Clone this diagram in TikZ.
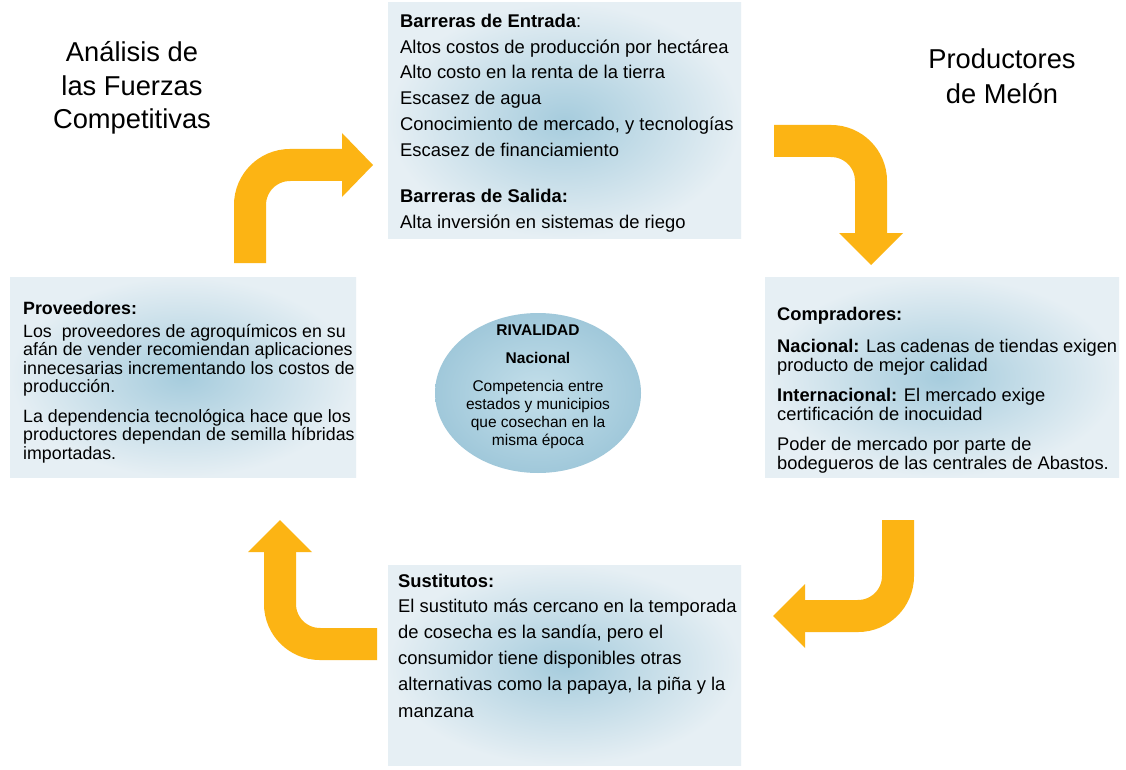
\documentclass[tikz,border=0pt]{standalone}
\usepackage{fontspec}
\setmainfont{Liberation Sans}
\usetikzlibrary{shapes.geometric,calc}
\definecolor{arr}{RGB}{252,180,20}
\definecolor{boxin}{RGB}{166,204,221}
\definecolor{boxout}{RGB}{230,239,244}
\definecolor{ellin}{RGB}{196,223,234}
\definecolor{ellout}{RGB}{160,200,218}
\begin{document}
\begin{tikzpicture}[x=1pt,y=-1pt,
  box/.style={rectangle, inner sep=0, inner color=boxin, outer color=boxout},
  txt/.style={anchor=base west, inner sep=0},
  ctxt/.style={anchor=base, inner sep=0},
  shaft/.style={draw=arr, line width=32pt, rounded corners=40pt},
  head/.style={fill=arr, draw=none}
]
\useasboundingbox (0,0) rectangle (1126,770);
\fill[white] (0,0) rectangle (1126,770);

% boxes
\node[box, minimum width=353, minimum height=235] (top) at (564.5,120.5) {};
\node[box, minimum width=346, minimum height=200] (left) at (183,377) {};
\node[box, minimum width=354, minimum height=200] (right) at (942,377) {};
\node[box, minimum width=353, minimum height=200] (bottom) at (564.5,665) {};
\node[ellipse, inner sep=0, minimum width=206, minimum height=160, inner color=ellin, outer color=ellout] (riv) at (538,393) {};

% titles
\node[ctxt] (t1) at (132,62) {\parbox[t]{250pt}{\centering\fontsize{27.3}{33.5}\selectfont
Análisis de\\las Fuerzas\\Competitivas}};
\node[ctxt] (t2) at (1002,69) {\parbox[t]{200pt}{\centering\fontsize{27.3}{34.5}\selectfont
Productores\\de Melón}};

% texts
\node[txt] (toptext) at (400,28) {\parbox[t]{340pt}{\fontsize{18.4}{25.5}\selectfont
\textbf{Barreras de Entrada}:\\
Altos costos de producción por hectárea\\
Alto costo en la renta de la tierra\\
Escasez de agua\\[1pt]
Conocimiento de mercado, y tecnologías\\
Escasez de financiamiento\\[21pt]
\textbf{Barreras de Salida:}\\
Alta inversión en sistemas de riego}};

\node[txt] (lefttext) at (23,314) {\parbox[t]{340pt}{\fontsize{17.8}{18.5}\selectfont
\textbf{Proveedores:}\\[4.5pt]
Los\ \ proveedores de agroquímicos en su\\
afán de vender recomiendan aplicaciones\\
innecesarias incrementando los costos de\\
producción.\\[11pt]
La dependencia tecnológica hace que los\\
productores dependan de semilla híbridas\\
importadas.}};

\node[txt] (righttext) at (777,320) {\parbox[t]{340pt}{\fontsize{18.3}{19}\selectfont
\textbf{Compradores:}\\[13pt]
\textbf{Nacional:} Las cadenas de tiendas exigen\\
producto de mejor calidad\\[11pt]
\textbf{Internacional:} El mercado exige\\
certificación de inocuidad\\[11pt]
Poder de mercado por parte de\\
bodegueros de las centrales de Abastos.}};

\node[txt] (bottomtext) at (398,587) {\parbox[t]{340pt}{\fontsize{18.4}{26.2}\selectfont
\textbf{Sustitutos:}\\[-1pt]
El sustituto más cercano en la temporada\\
de cosecha es la sandía, pero el\\
consumidor tiene disponibles otras\\
alternativas como la papaya, la piña y la\\
manzana}};

\node[ctxt] (rivtext) at (538,335) {\parbox[t]{200pt}{\centering\fontsize{15.5}{18}\selectfont
\textbf{RIVALIDAD}\\[10pt]
\textbf{Nacional}\\[10pt]
Competencia entre\\
estados y municipios\\
que cosechan en la\\
misma época}};

% arrows
\coordinate (a1s) at (250,263);
\coordinate (a1c) at (250,165);
\coordinate (a1e) at (343,165);
\draw[shaft] (a1s) -- (a1c) -- (a1e);
\fill[head] ($(a1e)+(-1,-32)$) -- ($(a1e)+(30,0)$) -- ($(a1e)+(-1,32)$) -- cycle;

\coordinate (a2s) at (774,141);
\coordinate (a2c) at (871,141);
\coordinate (a2e) at (871,234);
\draw[shaft] (a2s) -- (a2c) -- (a2e);
\fill[head] ($(a2e)+(-32,-1)$) -- ($(a2e)+(0,31)$) -- ($(a2e)+(32,-1)$) -- cycle;

\coordinate (a3s) at (898,520);
\coordinate (a3c) at (898,616);
\coordinate (a3e) at (804,616);
\draw[shaft] (a3s) -- (a3c) -- (a3e);
\fill[head] ($(a3e)+(1,-32)$) -- ($(a3e)+(-31,0)$) -- ($(a3e)+(1,32)$) -- cycle;

\coordinate (a4s) at (377,644);
\coordinate (a4c) at (280,644);
\coordinate (a4e) at (280,551);
\draw[shaft] (a4s) -- (a4c) -- (a4e);
\fill[head] ($(a4e)+(-32,1)$) -- ($(a4e)+(0,-31)$) -- ($(a4e)+(32,1)$) -- cycle;
\end{tikzpicture}
\end{document}
